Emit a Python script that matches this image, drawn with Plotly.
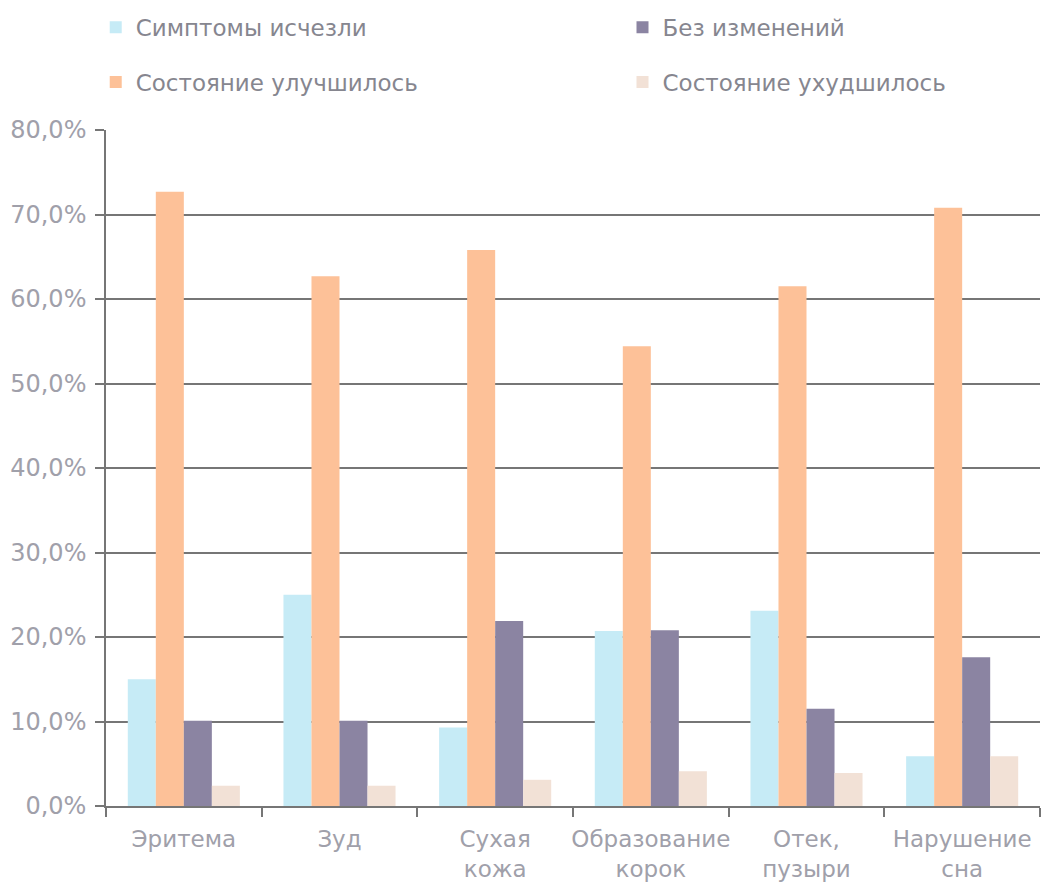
import plotly.graph_objects as go

categories = ["Эритема", "Зуд", "Сухая<br>кожа", "Образование<br>корок", "Отек,<br>пузыри", "Нарушение<br>сна"]

gone = [15.0, 25.0, 9.3, 20.7, 23.1, 5.9]          # Симптомы исчезли
improved = [72.7, 62.7, 65.8, 54.4, 61.5, 70.8]    # Состояние улучшилось
unchanged = [10.1, 10.1, 21.9, 20.8, 11.5, 17.6]   # Без изменений
worse = [2.4, 2.4, 3.1, 4.1, 3.9, 5.9]             # Состояние ухудшилось

y_ticks = [0, 10, 20, 30, 40, 50, 60, 70, 80]
y_tick_labels = [f"{v:.1f}%".replace(".", ",") for v in y_ticks]

FONT = "DejaVu Sans"
GRID = "#767676"
TEXT = "#a0a0aa"

# name, values, colour, legend id, legend column (0/1), legend row (0/1)
series = [
    ("Симптомы исчезли", gone, "#c6ebf6", "legend", 0, 0),
    ("Состояние улучшилось", improved, "#fdc198", "legend2", 0, 1),
    ("Без изменений", unchanged, "#8b84a2", "legend3", 1, 0),
    ("Состояние ухудшилось", worse, "#f2e1d6", "legend4", 1, 1),
]

fig = go.Figure()
for name, vals, color, leg, _, _ in series:
    fig.add_trace(go.Bar(
        x=categories, y=vals, name=name, marker_color=color,
        marker_line_width=0, legend=leg, showlegend=True,
        hoverinfo="x+y+name",
    ))

legend_x = [-0.011, 0.553]
legend_y = [1.152, 1.071]
legends = {}
for _, _, _, leg, col, row in series:
    legends[leg] = dict(
        x=legend_x[col], y=legend_y[row], xanchor="left", yanchor="middle",
        orientation="h", font=dict(family=FONT, size=23, color="#86868f"),
        bgcolor="rgba(0,0,0,0)", borderwidth=0, itemclick=False,
        visible=True,
    )

fig.update_layout(
    width=1042, height=883,
    margin=dict(l=106, r=2, t=130, b=77, autoexpand=False),
    paper_bgcolor="white", plot_bgcolor="white",
    barmode="group", bargap=0.28, bargroupgap=0,
    showlegend=True,
    font=dict(family=FONT, size=23, color=TEXT),
    xaxis=dict(
        showline=True, linecolor=GRID, linewidth=1.5,
        ticks="outside", tickson="boundaries", ticklen=9,
        tickcolor=GRID, tickwidth=1.5, tickangle=0, automargin=False,
        ticklabelstandoff=12,
        tickfont=dict(family=FONT, size=23, color=TEXT),
        showgrid=False,
    ),
    yaxis=dict(
        range=[0, 80], tickmode="array", tickvals=y_ticks, ticktext=y_tick_labels,
        showline=True, linecolor=GRID, linewidth=1.5,
        ticks="outside", ticklen=9, tickcolor=GRID, tickwidth=1.5,
        showgrid=True, gridcolor=GRID, gridwidth=1.5, zeroline=False,
        automargin=False, ticklabelstandoff=4,
        tickfont=dict(family=FONT, size=24, color=TEXT),
    ),
    **legends,
)

fig.write_html("out.html")
